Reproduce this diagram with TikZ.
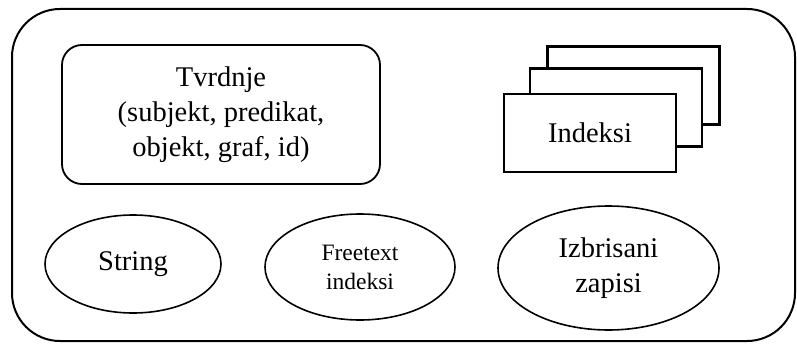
\documentclass[tikz,border=0pt]{standalone}
\usepackage{fontspec}
\setmainfont{Liberation Serif}
\usetikzlibrary{shapes.geometric}
\begin{document}
\begin{tikzpicture}[x=1pt,y=-1pt,
  big/.style={font=\fontsize{28.5}{35}\selectfont, align=center},
  small/.style={font=\fontsize{23.5}{29}\selectfont, align=center},
  roundbox/.style={draw, line width=1.8pt, rounded corners=20pt, inner sep=0pt},
  ell/.style={draw, ellipse, line width=1.6pt, inner sep=0pt},
  card/.style={draw, fill=white, line width=2.6pt, inner sep=0pt, minimum width=172pt, minimum height=78pt}]
\useasboundingbox (0,0) rectangle (797,345);
\node[draw, line width=2pt, rounded corners=48pt, inner sep=0pt,
  minimum width=783pt, minimum height=332pt] (frame) at (403.5,175) {};
\node[roundbox, big, minimum width=318pt, minimum height=139pt] (tv) at (221,114.5)
  {Tvrdnje\\(subjekt, predikat,\\objekt, graf, id)};
\node[card] (c3) at (633.5,85.5) {};
\node[card] (c2) at (616,107.5) {};
\node[card, big] (c1) at (590,133) {Indeksi};
\node[ell, big, minimum width=176pt, minimum height=98pt] (str) at (133,264) {String};
\node[ell, small, minimum width=190pt, minimum height=106pt] (ft) at (360,267) {Freetext\\indeksi};
\node[ell, big, minimum width=221pt, minimum height=124pt] (iz) at (608.5,268) {Izbrisani\\zapisi};
\end{tikzpicture}
\end{document}
